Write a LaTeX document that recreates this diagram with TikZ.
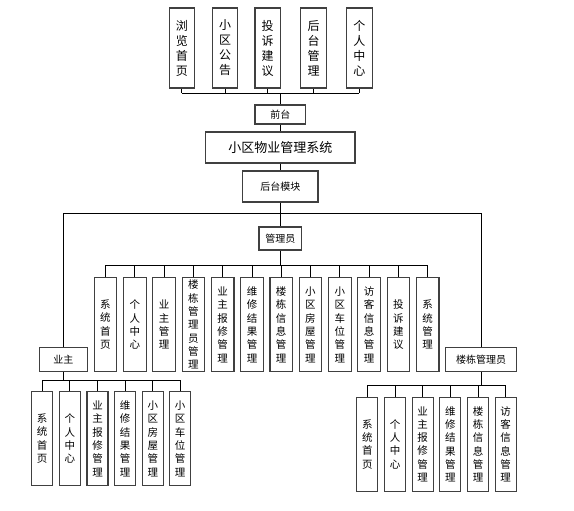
\documentclass[tikz,border=0pt]{standalone}
\usepackage{fontspec}
\setmainfont{Noto Sans CJK SC}
\begin{document}
\begin{tikzpicture}[x=1pt,y=-1pt,
  box/.style={draw=black!75, line width=1.1pt, fill=white, inner sep=0pt, align=center},
  topbox/.style={box, minimum width=25.5pt, minimum height=80pt, font=\fontsize{12}{15}\selectfont},
  mbox/.style={box, minimum width=22.5pt, minimum height=94pt, font=\fontsize{10.5}{13.3}\selectfont},
  sbox/.style={box, minimum width=21pt, minimum height=94pt, font=\fontsize{10.5}{13.3}\selectfont},
  hbox/.style={box, font=\fontsize{10}{12}\selectfont},
  conn/.style={draw=black, line width=0.8pt},
  trunk/.style={draw=black, line width=1.4pt}
]
\useasboundingbox (0,0) rectangle (574,511);

% top row
\node[topbox] (t1) at (181.8,48) {浏\\览\\首\\页};
\node[topbox] (t2) at (225,48) {小\\区\\公\\告};
\node[topbox] (t3) at (267.7,48) {投\\诉\\建\\议};
\node[topbox] (t4) at (313.5,48) {后\\台\\管\\理};
\node[topbox] (t5) at (359.3,48) {个\\人\\中\\心};

\node[hbox, minimum width=50.7pt, minimum height=19pt] (qt) at (280.3,114.5) {前台};
\node[box, minimum width=149.3pt, minimum height=31pt, font=\fontsize{13}{15}\selectfont] (sys) at (280.3,147.5) {小区物业管理系统};
\node[hbox, minimum width=75.3pt, minimum height=31pt] (ht) at (280.3,186.5) {后台模块};

\coordinate (topbus) at (280,93);
\foreach \i in {1,...,5} \draw[conn] (t\i.south) -- (t\i.south |- topbus);
\draw[conn] (t1.south |- topbus) -- (t5.south |- topbus);
\draw[conn] (qt.north) -- (qt.north |- topbus);
\draw[conn] (qt.south) -- (sys.north);
\draw[conn] (sys.south) -- (ht.north);

% second level
\node[hbox, minimum width=42.7pt, minimum height=23pt] (gly) at (280.3,238.5) {管理员};
\node[hbox, minimum width=48pt, minimum height=24pt] (yz) at (63.3,359.7) {业主};
\node[hbox, minimum width=71pt, minimum height=24pt] (ld) at (481.2,359.7) {楼栋管理员};

\coordinate (midbus) at (280,213);
\draw[conn] (ht.south) -- (ht.south |- midbus);
\draw[conn] (yz.north |- midbus) -- (ld.north |- midbus);
\draw[conn] (yz.north) -- (yz.north |- midbus);
\draw[conn] (ld.north) -- (ld.north |- midbus);
\draw[conn] (gly.north) -- (gly.north |- midbus);

% manager children
\node[mbox] (m1) at (105.4,324.7) {系\\统\\首\\页};
\node[mbox] (m2) at (134.8,324.7) {个\\人\\中\\心};
\node[mbox] (m3) at (164.1,324.7) {业\\主\\管\\理};
\node[mbox] (m4) at (193.4,324.7) {楼\\栋\\管\\理\\员\\管\\理};
\node[mbox] (m5) at (222.7,324.7) {业\\主\\报\\修\\管\\理};
\node[mbox] (m6) at (252,324.7) {维\\修\\结\\果\\管\\理};
\node[mbox] (m7) at (281.2,324.7) {楼\\栋\\信\\息\\管\\理};
\node[mbox] (m8) at (310.4,324.7) {小\\区\\房\\屋\\管\\理};
\node[mbox] (m9) at (339.8,324.7) {小\\区\\车\\位\\管\\理};
\node[mbox] (m10) at (369,324.7) {访\\客\\信\\息\\管\\理};
\node[mbox] (m11) at (398.3,324.7) {投\\诉\\建\\议};
\node[mbox] (m12) at (427.7,324.7) {系\\统\\管\\理};

\coordinate (mbus) at (280,265.7);
\draw[trunk] (gly.south) -- (gly.south |- mbus);
\draw[conn] (m1.north |- mbus) -- (m12.north |- mbus);
\foreach \i in {1,...,12} \draw[conn] (m\i.north) -- (m\i.north |- mbus);

% owner children
\node[sbox] (y1) at (42.2,438.7) {系\\统\\首\\页};
\node[sbox] (y2) at (69.8,438.7) {个\\人\\中\\心};
\node[sbox] (y3) at (97.5,438.7) {业\\主\\报\\修\\管\\理};
\node[sbox] (y4) at (125.2,438.7) {维\\修\\结\\果\\管\\理};
\node[sbox] (y5) at (152.8,438.7) {小\\区\\房\\屋\\管\\理};
\node[sbox] (y6) at (180.2,438.7) {小\\区\\车\\位\\管\\理};

\coordinate (ybus) at (63,380);
\draw[trunk] (yz.south) -- (yz.south |- ybus);
\draw[conn] (y1.north |- ybus) -- (y6.north |- ybus);
\foreach \i in {1,...,6} \draw[conn] (y\i.north) -- (y\i.north |- ybus);

% building manager children
\node[sbox] (b1) at (367.3,444.2) {系\\统\\首\\页};
\node[sbox] (b2) at (395,444.2) {个\\人\\中\\心};
\node[sbox] (b3) at (422.7,444.2) {业\\主\\报\\修\\管\\理};
\node[sbox] (b4) at (450.3,444.2) {维\\修\\结\\果\\管\\理};
\node[sbox] (b5) at (478,444.2) {楼\\栋\\信\\息\\管\\理};
\node[sbox] (b6) at (505.7,444.2) {访\\客\\信\\息\\管\\理};

\coordinate (bbus) at (481,385.7);
\draw[trunk] (ld.south) -- (ld.south |- bbus);
\draw[conn] (b1.north |- bbus) -- (b6.north |- bbus);
\foreach \i in {1,...,6} \draw[conn] (b\i.north) -- (b\i.north |- bbus);
\end{tikzpicture}
\end{document}
